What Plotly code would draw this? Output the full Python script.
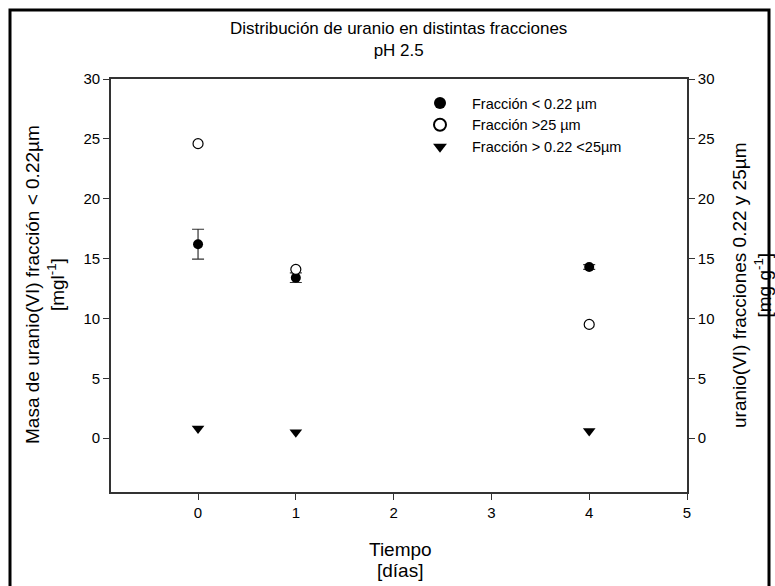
import plotly.graph_objects as go

# ---- data ----
dias = [0, 1, 4]
frac_menor_022 = [16.2, 13.4, 14.3]
frac_menor_022_err = [1.25, 0.4, 0.2]
frac_mayor_25 = [24.6, 14.1, 9.5]
frac_intermedia = [0.8, 0.5, 0.6]

x_ticks = [0, 1, 2, 3, 4, 5]
y_ticks = [0, 5, 10, 15, 20, 25, 30]

names = ["Fracción < 0.22 µm", "Fracción >25 µm", "Fracción > 0.22 <25µm"]

# ---- layout geometry (pixels) ----
W, H = 775, 586
L, R, T, B = 111, 687, 79, 492
pw, ph = R - L, B - T


def px(x):
    return (x - L) / pw


def py(y):
    return (B - y) / ph


FONT = "Liberation Sans, Arial, sans-serif"
AX = "#333333"

fig = go.Figure()

fig.add_trace(go.Scatter(
    x=dias, y=frac_mayor_25, mode="markers", name=names[1], legendrank=2,
    marker=dict(symbol="circle", size=10, color="white", line=dict(color="black", width=1.2)),
    yaxis="y2"))
fig.add_trace(go.Scatter(
    x=dias, y=frac_intermedia, mode="markers", name=names[2], legendrank=3,
    marker=dict(symbol="triangle-down", size=11, color="black", line=dict(width=0)),
    yaxis="y2"))
fig.add_trace(go.Scatter(
    x=dias, y=frac_menor_022, mode="markers", name=names[0], legendrank=1,
    marker=dict(symbol="circle", size=10, color="black", line=dict(width=0)),
    error_y=dict(type="data", array=frac_menor_022_err, visible=True,
                 color=AX, thickness=1.2, width=6)))

axis_common = dict(
    showgrid=False, zeroline=False, showline=True, linecolor=AX, linewidth=1.6,
    ticks="outside", ticklen=6, tickwidth=1.2, tickcolor=AX,
    tickfont=dict(family=FONT, size=15, color="black"),
)

fig.update_layout(
    width=W, height=H,
    margin=dict(l=L, r=W - R, t=T, b=H - B),
    paper_bgcolor="white", plot_bgcolor="white",
    font=dict(family=FONT, color="black"),
    xaxis=dict(range=[-0.89, 5], tickvals=x_ticks, mirror=True, **axis_common),
    yaxis=dict(range=[-4.5, 30], tickvals=y_ticks, **axis_common),
    yaxis2=dict(range=[-4.5, 30], tickvals=y_ticks, overlaying="y", side="right",
                anchor="x", **axis_common),
    legend=dict(x=px(408), y=py(87), xanchor="left", yanchor="top",
                bgcolor="rgba(0,0,0,0)", borderwidth=0, itemwidth=54,
                font=dict(family=FONT, size=14.5, color="black"),
                itemsizing="constant"),
    showlegend=True,
)

# chart title
fig.add_annotation(text="Distribución de uranio en distintas fracciones<br>pH 2.5",
                   xref="paper", yref="paper", x=px(398), y=py(40),
                   xanchor="center", yanchor="middle", showarrow=False,
                   font=dict(family=FONT, size=17, color="black"))

# axis titles
fig.add_annotation(text="Masa de uranio(VI) fracción < 0.22µm<br>[mgl<sup>-1</sup>]",
                   xref="paper", yref="paper", x=px(45), y=py(285),
                   xanchor="center", yanchor="middle", textangle=-90, showarrow=False,
                   font=dict(family=FONT, size=19, color="black"))
fig.add_annotation(text="uranio(VI) fracciones 0.22 y 25µm<br>[mg g<sup>-1</sup>]",
                   xref="paper", yref="paper", x=px(752), y=py(285),
                   xanchor="center", yanchor="middle", textangle=-90, showarrow=False,
                   font=dict(family=FONT, size=19, color="black"))
fig.add_annotation(text="Tiempo",
                   xref="paper", yref="paper", x=px(400), y=py(549),
                   xanchor="center", yanchor="middle", showarrow=False,
                   font=dict(family=FONT, size=19, color="black"))
fig.add_annotation(text="[días]",
                   xref="paper", yref="paper", x=px(400), y=py(570),
                   xanchor="center", yanchor="middle", showarrow=False,
                   font=dict(family=FONT, size=19, color="black"))

# outer frame
fig.add_shape(type="rect", xref="paper", yref="paper",
              x0=px(10), x1=px(769), y0=py(640), y1=py(10),
              line=dict(color="black", width=3), layer="below")

fig.write_html("out.html")
